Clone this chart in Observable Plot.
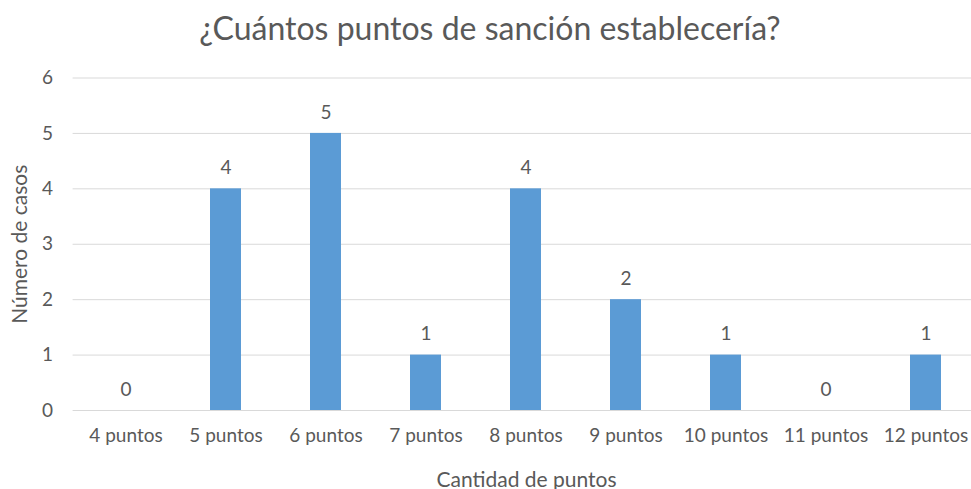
<!DOCTYPE html>
<html>
<head>
<meta charset="utf-8">
<script src="https://cdn.jsdelivr.net/npm/d3@7"></script>
<script src="https://cdn.jsdelivr.net/npm/@observablehq/plot@0.6"></script>
<style>
  html, body { margin: 0; padding: 0; background: #fff; overflow: hidden; }
  #wrap { width: 980px; font-family: Lato, "Noto Sans", sans-serif; color: #595959; }
  #title { height: 60px; line-height: 56px; text-align: center; font-size: 32px; }
</style>
</head>
<body>
<div id="wrap">
  <div id="title">¿Cuántos puntos de sanción establecería?</div>
  <div id="chart"></div>
</div>
<script>
// Puntos de sanción propuestos y número de casos para cada uno
const categorias = ["4 puntos", "5 puntos", "6 puntos", "7 puntos", "8 puntos", "9 puntos", "10 puntos", "11 puntos", "12 puntos"];
const casos = [0, 4, 5, 1, 4, 2, 1, 0, 1];
const marcasY = [0, 1, 2, 3, 4, 5, 6];

const datos = categorias.map((c, i) => ({categoria: c, casos: casos[i]}));

const chart = Plot.plot({
  width: 980,
  height: 429,
  marginTop: 17.5,
  marginBottom: 79,
  marginLeft: 72.6,
  marginRight: 0.6,
  style: {fontFamily: "Lato, 'Noto Sans', sans-serif", fontSize: "19px", color: "#595959", background: "#fff"},
  x: {domain: categorias, paddingInner: 0.69, paddingOuter: 0.345, label: null},
  y: {domain: [0, 6], ticks: marcasY, label: null},
  marks: [
    Plot.gridY(marcasY, {stroke: "#d9d9d9", strokeOpacity: 1, strokeWidth: 1}),
    Plot.barY(datos, {x: "categoria", y: "casos", fill: "#5b9bd5"}),
    Plot.text(datos, {x: "categoria", y: "casos", text: d => String(d.casos), dy: -21, fill: "#595959", fontSize: 19}),
    Plot.axisY(marcasY, {tickSize: 0, tickPadding: 20, fontSize: 19, tickFormat: "d", label: null}),
    Plot.axisX({tickSize: 0, tickPadding: 18, fontSize: 19, label: null}),
    Plot.text(["Número de casos"], {frameAnchor: "left", textAnchor: "middle", dx: -53, rotate: -90, fontSize: 21, fill: "#595959"}),
    Plot.text(["Cantidad de puntos"], {frameAnchor: "bottom", dy: 76, fontSize: 21, fill: "#595959"})
  ]
});
document.getElementById("chart").appendChild(chart);
</script>
</body>
</html>
